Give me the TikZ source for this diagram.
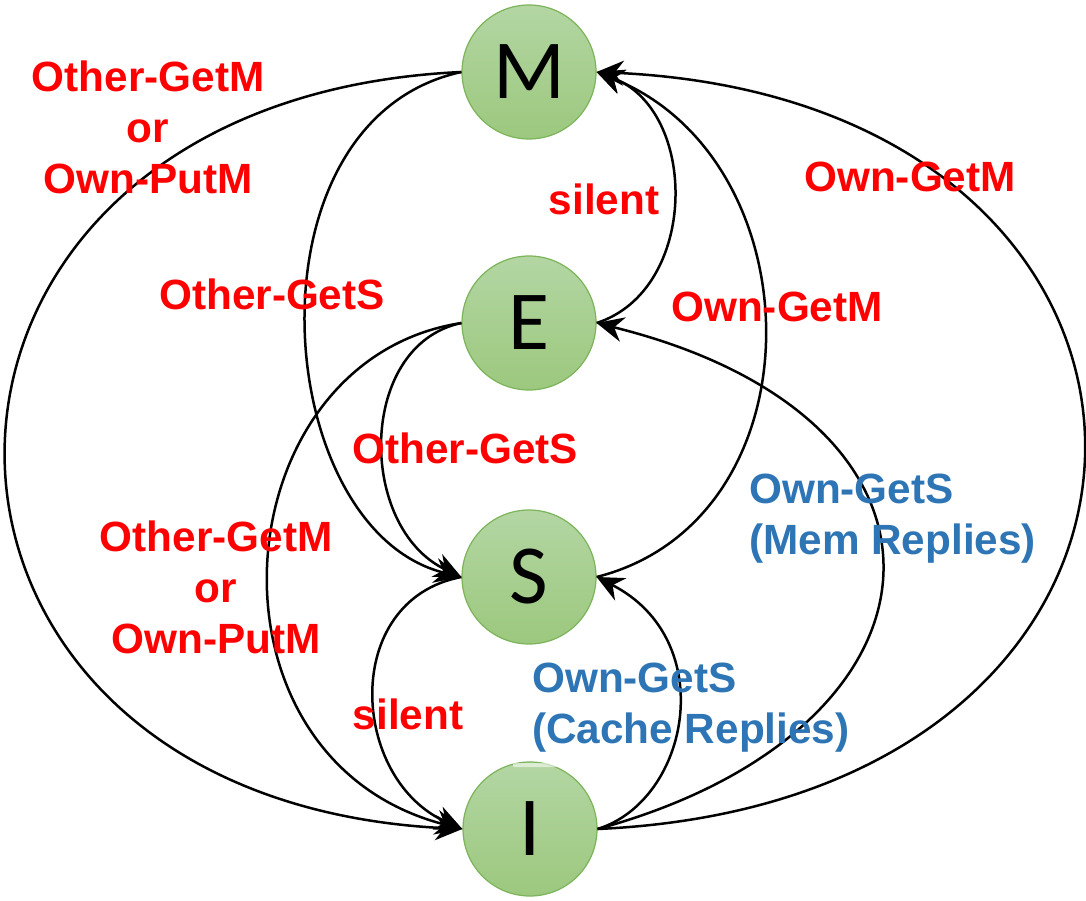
\documentclass[tikz,border=0pt]{standalone}
\usepackage{fontspec}
\setmainfont{Liberation Sans}
\newfontfamily\statefont{Carlito}
\usetikzlibrary{arrows.meta}
\definecolor{trred}{HTML}{FF0000}
\definecolor{trblue}{HTML}{2E75B6}
\definecolor{stTop}{HTML}{B3D6A3}
\definecolor{stBot}{HTML}{9CC87E}
\definecolor{stEdge}{HTML}{7CB45A}

\begin{document}
\begin{tikzpicture}[x=1pt,y=-1pt,
  state/.style={circle, minimum size=134pt, inner sep=0pt, draw=stEdge,
    line width=1.2pt, top color=stTop, bottom color=stBot,
    font=\statefont\fontsize{84}{84}\selectfont},
  trans/.style={draw=black, line width=2.5pt,
    -{Stealth[length=27pt,width=25pt,inset=9pt]}},
  lbl/.style={font=\bfseries\fontsize{42.3}{51}\selectfont, inner sep=0pt},
  redlbl/.style={lbl, text=trred, align=center},
  bluelbl/.style={lbl, text=trblue, align=left, anchor=west}]

  % canvas
  \fill[white] (0,0) rectangle (1086,901);
  \useasboundingbox (0,0) rectangle (1086,901);

  % states
  \node[state] (M) at (529,72)  {M};
  \node[state] (E) at (529,323) {E};
  \node[state] (S) at (529,577) {S};
  \node[state] (I) at (530,829) {I};
  \fill[white, opacity=.55, rounded corners=1pt] (513,763) rectangle (557,767);

  % transitions leaving on the left
  \draw[trans] (M.west) .. controls (-145,100) and (-145,800) .. (I.west);
  \draw[trans] (M.west) .. controls (240,120) and (270,530) .. (S.west);
  \draw[trans] (E.west) .. controls (357,345) and (357,528) .. (S.west);
  \draw[trans] (E.west) .. controls (220,360) and (190,760) .. (I.west);
  \draw[trans] (S.west) .. controls (340,600) and (350,780) .. (I.west);

  % transitions on the right
  \draw[trans] (E.east) .. controls (699,290) and (699,110) .. (M.east);
  \draw[trans] (S.east) .. controls (822,520) and (818,160) .. (M.east);
  \draw[trans] (I.east) .. controls (1245,800) and (1245,100) .. (M.east);
  \draw[trans] (I.east) .. controls (964,729) and (988,420) .. (E.east);
  \draw[trans] (I.east) .. controls (690,800) and (720,640) .. (S.east);

  % labels
  \node[redlbl] (l1) at (148,127) {Other-GetM\\or\\Own-PutM};
  \node[redlbl] (l2) at (604,199) {silent};
  \node[redlbl] (l3) at (910,177) {Own-GetM};
  \node[redlbl] (l4) at (272,294) {Other-GetS};
  \node[redlbl] (l5) at (777,307) {Own-GetM};
  \node[redlbl] (l6) at (465,448) {Other-GetS};
  \node[redlbl] (l7) at (216,587) {Other-GetM\\or\\Own-PutM};
  \node[redlbl] (l8) at (408,714) {silent};
  \node[bluelbl] (l9) at (749,519) {Own-GetS\\(Mem Replies)};
  \node[bluelbl] (l10) at (532,708) {Own-GetS\\(Cache Replies)};
\end{tikzpicture}
\end{document}
